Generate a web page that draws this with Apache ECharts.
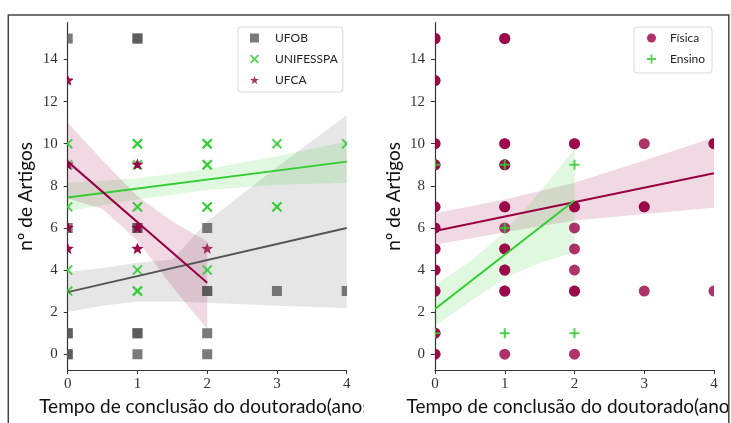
<!DOCTYPE html>
<html><head><meta charset="utf-8">
<script src="https://cdn.jsdelivr.net/npm/echarts@6/dist/echarts.min.js"></script>
<style>html,body{margin:0;padding:0;background:#fff}#c{width:731px;height:423px}</style>
</head><body><div id="c"></div>
<script>
// ---------- ticks & labels ----------
const xTicks = [0, 1, 2, 3, 4];
const yTicks = [0, 2, 4, 6, 8, 10, 12, 14];
const xLabel = 'Tempo de conclusão do doutorado(anos)';
const yLabel = 'nº de Artigos';

// ---------- left panel: points [x, y] ----------
const ufob = [[0,15],[0,6],[0,1],[0,1],[0,0],[0,0],[1,15],[1,15],[1,6],[1,6],[1,1],[1,1],[1,0],[2,6],[2,3],[2,3],[2,1],[2,0],[3,3],[4,3]];
const unifesspa = [[0,10],[0,9],[0,7],[0,4],[0,3],[1,10],[1,10],[1,9],[1,7],[1,7],[1,4],[1,3],[1,3],[2,10],[2,10],[2,9],[2,9],[2,7],[2,7],[2,4],[3,10],[3,7],[3,7],[4,10]];
const ufca = [[0,13],[0,13],[0,9],[0,9],[0,6],[0,6],[0,5],[0,5],[1,9],[1,9],[1,6],[1,6],[1,5],[1,5],[2,5]];
// regression lines
const ufobFit = [[0,2.95],[4,6.0]];
const unifesspaFit = [[0,7.45],[4,9.15]];
const ufcaFit = [[0,9.15],[2,3.4]];
// confidence bands
const ufobBandX = [0,0.5,1,1.5,2,3,4];
const ufobBandLo = [2.0,2.3,2.5,2.5,2.45,2.3,2.2];
const ufobBandHi = [3.9,4.1,4.35,4.5,6.3,8.9,11.35];
const unifBandX = [0,1,2,3,4];
const unifBandLo = [6.8,7.35,7.8,8.05,8.15];
const unifBandHi = [8.15,8.35,8.8,9.4,10.1];
const ufcaBandX = [0,0.5,1,1.5,2];
const ufcaBandLo = [7.4,6.9,5.4,3.2,1.2];
const ufcaBandHi = [11.0,9.2,7.5,6.3,5.35];

// ---------- right panel ----------
const fisica = [[0,15],[0,15],[0,13],[0,13],[0,10],[0,10],[0,9],[0,9],[0,7],[0,7],[0,6],[0,6],[0,5],[0,5],[0,4],[0,4],[0,3],[0,3],[0,1],[0,1],[0,0],[0,0],
  [1,15],[1,15],[1,10],[1,10],[1,9],[1,9],[1,7],[1,7],[1,6],[1,5],[1,5],[1,4],[1,4],[1,3],[1,3],[1,0],
  [2,10],[2,10],[2,7],[2,7],[2,6],[2,5],[2,4],[2,3],[2,3],[2,0],
  [3,10],[3,7],[3,7],[3,3],[4,10],[4,10],[4,3]];
const ensino = [[0,9],[0,1],[1,9],[1,6],[1,1],[2,9],[2,1]];
const fisicaFit = [[0,5.85],[4,8.6]];
const ensinoFit = [[0,2.15],[2,7.3]];
const fisBandX = [0,1,2,3,4];
const fisBandLo = [5.2,5.8,6.35,6.66,6.96];
const fisBandHi = [6.7,7.35,8.15,9.2,10.3];
const ensBandX = [0,0.5,1,1.5,2];
const ensBandLo = [1.35,2.5,3.6,4.35,4.85];
const ensBandHi = [3.3,4.4,5.8,7.7,9.75];

// ---------- styles ----------
const GRAY = 'rgba(85,85,85,0.78)';
const GREEN = 'rgba(50,205,50,0.85)';
const MAG = 'rgba(153,0,68,0.8)';
const GRAY_LINE = '#555555', GREEN_LINE = '#33cc33', MAG_LINE = '#990044';
const xPath = 'path://M1.5,0L5,3.5L8.5,0L10,1.5L6.5,5L10,8.5L8.5,10L5,6.5L1.5,10L0,8.5L3.5,5L0,1.5Z';
const plusPath = 'path://M4,0H6V4H10V6H6V10H4V6H0V4H4Z';
const starPath = 'path://M5,0L6.12,3.45L9.76,3.45L6.82,5.59L7.94,9.05L5,6.91L2.06,9.05L3.18,5.59L0.24,3.45L3.88,3.45Z';
const NAME_FONT = {fontFamily:'Lato', fontSize:19, color:'#111'};

function drawShape(shape, c, color) {
  const x = c[0], y = c[1];
  if (shape === 'square') return {type:'rect', shape:{x:x-5, y:y-5, width:10, height:10}, style:{fill:color}};
  if (shape === 'circle') return {type:'circle', shape:{cx:x, cy:y, r:5.5}, style:{fill:color}};
  if (shape === 'x') {
    const d = 4.5;
    return {type:'group', children:[
      {type:'line', shape:{x1:x-d,y1:y-d,x2:x+d,y2:y+d}, style:{stroke:color, lineWidth:2}},
      {type:'line', shape:{x1:x-d,y1:y+d,x2:x+d,y2:y-d}, style:{stroke:color, lineWidth:2}}]};
  }
  if (shape === 'plus') {
    const d = 5;
    return {type:'group', children:[
      {type:'line', shape:{x1:x-d,y1:y,x2:x+d,y2:y}, style:{stroke:color, lineWidth:2}},
      {type:'line', shape:{x1:x,y1:y-d,x2:x,y2:y+d}, style:{stroke:color, lineWidth:2}}]};
  }
  const pts = [];
  for (let k = 0; k < 10; k++) {
    const r = k % 2 === 0 ? 6.2 : 2.6;
    const a = -Math.PI/2 + k*Math.PI/5;
    pts.push([x + r*Math.cos(a), y + r*Math.sin(a)]);
  }
  return {type:'polygon', shape:{points:pts}, style:{fill:color}};
}

function pointSeries(name, data, g, shape, color) {
  return {type:'custom', name, xAxisIndex:g, yAxisIndex:g, data, clip:true, z:3,
    itemStyle:{color},
    renderItem:(p, api) => drawShape(shape, api.coord([api.value(0), api.value(1)]), color)};
}
function bandSeries(xs, lo, hi, g, color) {
  return {type:'custom', xAxisIndex:g, yAxisIndex:g, clip:true, z:1, silent:true, data:[[xs[0], lo[0]]],
    renderItem:(p, api) => {
      const pts = [];
      xs.forEach((x, i) => pts.push(api.coord([x, hi[i]])));
      for (let i = xs.length - 1; i >= 0; i--) pts.push(api.coord([xs[i], lo[i]]));
      return {type:'polygon', shape:{points:pts}, style:{fill:color}};
    }};
}
function lineSeries(data, g, color) {
  return {type:'line', data, xAxisIndex:g, yAxisIndex:g, symbol:'none', silent:true, z:4,
    lineStyle:{color, width:2}};
}
function xAx(i) {
  return {type:'value', gridIndex:i, min:0, max:4, name:xLabel, nameLocation:'middle', nameGap:23,
    nameTextStyle:NAME_FONT,
    axisLine:{show:true, onZero:false, lineStyle:{color:'#333', width:1.2}},
    axisTick:{show:true, length:4, customValues:xTicks, lineStyle:{color:'#333'}},
    axisLabel:{customValues:xTicks, fontFamily:'Liberation Serif', fontSize:15, color:'#333', margin:7},
    splitLine:{show:false}};
}
function yAx(i) {
  return {type:'value', gridIndex:i, min:-0.75, max:15.75, name:yLabel, nameLocation:'middle', nameGap:32, nameRotate:90,
    nameTextStyle:NAME_FONT,
    axisLine:{show:true, onZero:false, lineStyle:{color:'#333', width:1.2}},
    axisTick:{show:true, length:4, customValues:yTicks, lineStyle:{color:'#333'}},
    axisLabel:{customValues:yTicks, fontFamily:'Liberation Serif', fontSize:15, color:'#333', margin:10},
    splitLine:{show:false}};
}

const chart = echarts.init(document.getElementById('c'), null, {renderer:'canvas'});
chart.setOption({
  backgroundColor:'#fff',
  animation:false,
  grid:[{left:67.7, top:22.7, width:279, height:347.3, outerBoundsMode:'none', containLabel:false},
        {left:435, top:22.7, width:279, height:347.3, outerBoundsMode:'none', containLabel:false}],
  xAxis:[xAx(0), xAx(1)],
  yAxis:[yAx(0), yAx(1)],
  legend:[{
    data:[{name:'UFOB', icon:'rect'}, {name:'UNIFESSPA', icon:xPath}, {name:'UFCA', icon:starPath}],
    orient:'vertical', left:238, top:27, itemWidth:9, itemHeight:9, itemGap:9,
    padding:[5,5,6,12], borderColor:'#d9d9d9', borderWidth:1, borderRadius:3, selectedMode:false,
    formatter: n => '{t|' + n + '}',
    textStyle:{fontFamily:'Lato', fontSize:12, color:'#222', rich:{t:{padding:[0,0,0,11], fontFamily:'Lato', fontSize:12, color:'#222'}}}
  },{
    data:[{name:'Física', icon:'circle'}, {name:'Ensino', icon:plusPath}],
    orient:'vertical', left:634, top:27, itemWidth:9, itemHeight:9, itemGap:9,
    padding:[5,7,8,13], borderColor:'#d9d9d9', borderWidth:1, borderRadius:3, selectedMode:false,
    formatter: n => '{t|' + n + '}',
    textStyle:{fontFamily:'Lato', fontSize:12, color:'#222', rich:{t:{padding:[0,0,0,9], fontFamily:'Lato', fontSize:12, color:'#222'}}}
  }],
  series:[
    bandSeries(ufobBandX, ufobBandLo, ufobBandHi, 0, 'rgba(150,150,150,0.24)'),
    bandSeries(unifBandX, unifBandLo, unifBandHi, 0, 'rgba(50,205,50,0.15)'),
    bandSeries(ufcaBandX, ufcaBandLo, ufcaBandHi, 0, 'rgba(153,0,68,0.15)'),
    pointSeries('UFOB', ufob, 0, 'square', GRAY),
    pointSeries('UNIFESSPA', unifesspa, 0, 'x', GREEN),
    pointSeries('UFCA', ufca, 0, 'star', MAG),
    lineSeries(ufobFit, 0, GRAY_LINE),
    lineSeries(unifesspaFit, 0, GREEN_LINE),
    lineSeries(ufcaFit, 0, MAG_LINE),

    bandSeries(fisBandX, fisBandLo, fisBandHi, 1, 'rgba(153,0,68,0.15)'),
    bandSeries(ensBandX, ensBandLo, ensBandHi, 1, 'rgba(50,205,50,0.15)'),
    pointSeries('Física', fisica, 1, 'circle', MAG),
    pointSeries('Ensino', ensino, 1, 'plus', GREEN),
    lineSeries(fisicaFit, 1, MAG_LINE),
    lineSeries(ensinoFit, 1, GREEN_LINE)
  ],
  graphic:[
    {type:'rect', z:100, silent:true, shape:{x:363.5, y:392, width:40, height:31}, style:{fill:'#fff'}},
    {type:'rect', z:100, silent:true, shape:{x:729.5, y:0, width:2, height:423}, style:{fill:'#fff'}},
    {type:'rect', z:101, silent:true, shape:{x:8.3, y:15, width:720.5, height:430}, style:{fill:'none', stroke:'#444', lineWidth:1.5}}
  ]
});
</script>
</body></html>
